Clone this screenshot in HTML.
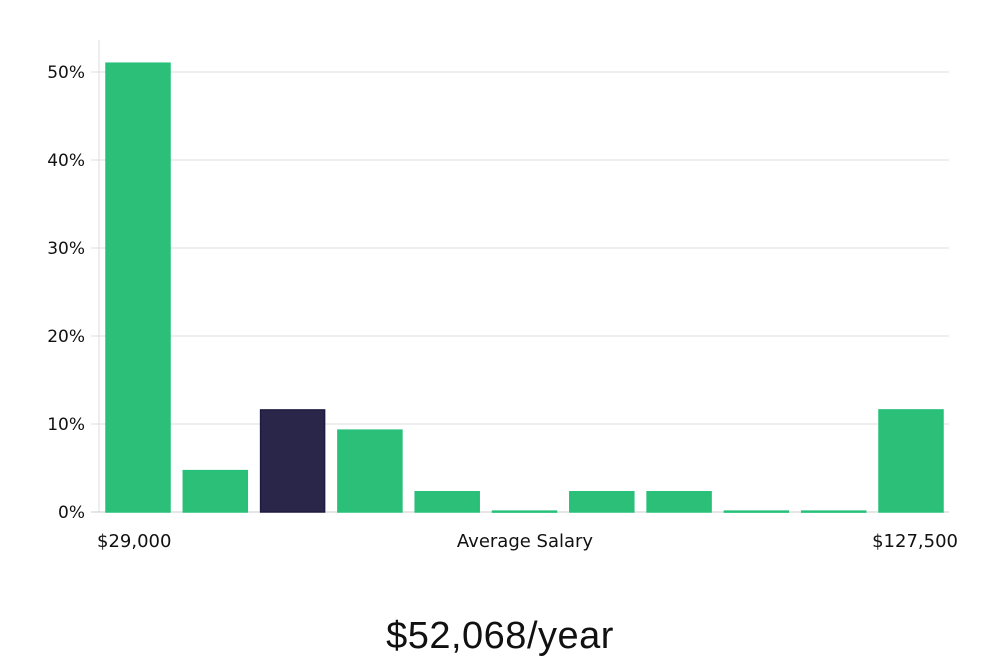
<!DOCTYPE html>
<html><head><meta charset="utf-8">
<style>
html,body{margin:0;padding:0;background:#fff;}
body{width:1000px;height:660px;overflow:hidden;font-family:"DejaVu Sans","Liberation Sans",sans-serif;}
</style></head>
<body>
<svg id="chart" width="1000" height="660" xmlns="http://www.w3.org/2000/svg">
<g id="grid"></g><g id="bars"></g><g id="labels"></g>
<text x="500" y="648" text-anchor="middle" font-family="Liberation Sans, sans-serif" font-weight="300" font-size="38" fill="#111" style="font-weight:200;letter-spacing:0.5px">$52,068/year</text>
</svg>
<script>
const values = [51.0, 4.7, 11.6, 9.3, 2.3, 0.1, 2.3, 2.3, 0.1, 0.1, 11.6];
const highlight = [false, false, true, false, false, false, false, false, false, false, false];
const yTicks = [0, 10, 20, 30, 40, 50];
const yTickLabels = ["0%", "10%", "20%", "30%", "40%", "50%"];
const xLabels = ["$29,000", "Average Salary", "$127,500"];

const NS = "http://www.w3.org/2000/svg";
const x0 = 99, x1 = 949, yBase = 512, pxPer = 8.8;
const barStart = 106, step = 77.3, barW = 64;
function yScale(v){ return yBase - v * pxPer; }
function xScale(i){ return barStart + i * step; }
function mk(tag, attrs, parent){ const e = document.createElementNS(NS, tag); for (const k in attrs) e.setAttribute(k, attrs[k]); parent.appendChild(e); return e; }

const grid = document.getElementById('grid');
const va = mk('line', {x1:x0, x2:x0, y1:40, y2:yBase, stroke:'#ddd', 'stroke-width':1}, grid);


yTicks.forEach((t, i) => {
  const y = yScale(t);
  const g = mk('line', {x1:x0 - 8, x2:x1, y1:y, y2:y, stroke: t === 0 ? '#ccc' : '#ddd', 'stroke-width':1}, grid);
  
  
  const tx = mk('text', {x:85, y:y + 6, 'text-anchor':'end', 'font-size':17, fill:'#111'}, grid);
  tx.textContent = yTickLabels[i];
  
  
});

const bars = document.getElementById('bars');
values.forEach((v, i) => {
  const y = yScale(v);
  const r = mk('rect', {x:xScale(i), y:y, width:barW, height:Math.max(yBase - y, 1),
    fill: highlight[i] ? '#2a2649' : '#2bbf77', stroke: highlight[i] ? '#1d1a3f' : '#26c07a', 'stroke-width':1.5}, bars);
  
  
});

const labels = document.getElementById('labels');
const lx = [97, 525, 958], la = ['start', 'middle', 'end'];
xLabels.forEach((l, i) => {
  const t = mk('text', {x:lx[i], y:547, 'text-anchor':la[i], 'font-size':18, fill:'#111'}, labels);
  t.textContent = l;
  
  
});
</script>
</body></html>
